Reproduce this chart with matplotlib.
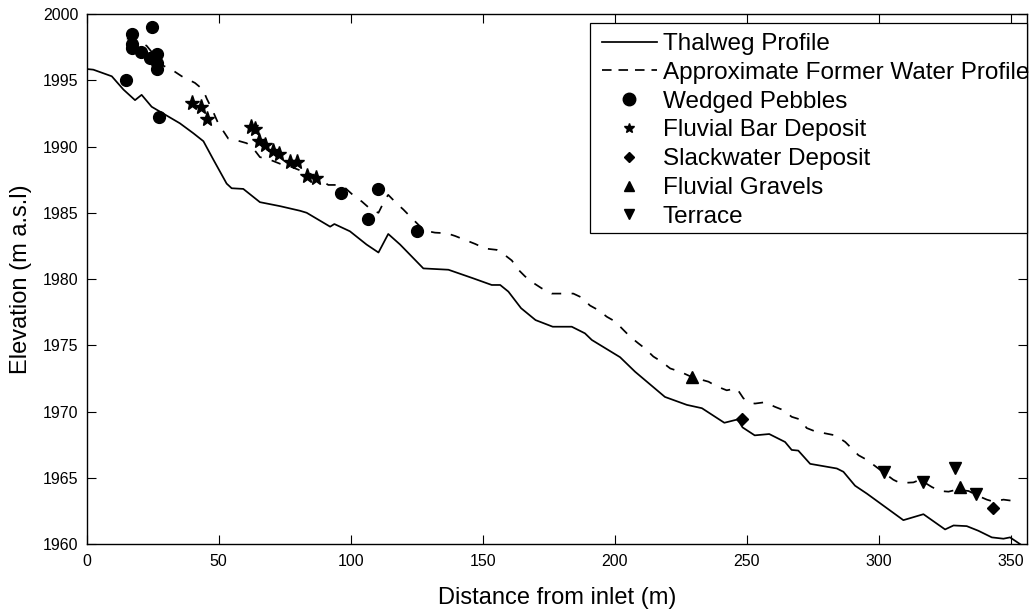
import numpy as np
import matplotlib
matplotlib.use('Agg')
import matplotlib.pyplot as plt
from matplotlib.lines import Line2D
from matplotlib.patches import Rectangle

plt.rcParams['font.family'] = ['Liberation Sans', 'DejaVu Sans']

# thalweg profile (distance m, elevation m a.s.l)
thal_x = [0, 2.5, 9.5, 13.9, 18.3, 20.8, 24.6, 35.3, 40.4, 44.2, 48, 53, 54.9, 59.3,
          65.6, 73.2, 80.8, 83.3, 92.2, 93.8, 99.7, 106, 110.5, 114.2, 118.7, 127.5,
          137, 146.4, 153.4, 156.6, 159.7, 164.5, 170, 176.5, 183.7, 188.7, 191.3,
          202, 207.7, 219, 227.3, 233, 241.5, 246.5, 248.4, 253, 258.5, 264.5, 267,
          269.5, 274, 284.1, 286.6, 291, 295.5, 309.3, 316.9, 325.1, 328.3, 333.3,
          337.7, 342.8, 347.2, 349.7, 354.2]
thal_y = [1995.85, 1995.8, 1995.3, 1994.3, 1993.5, 1993.9, 1993.0, 1991.75, 1991.0,
          1990.4, 1989.0, 1987.2, 1986.85, 1986.8, 1985.8, 1985.5, 1985.15, 1985.0,
          1983.95, 1984.15, 1983.6, 1982.6, 1982.0, 1983.4, 1982.6, 1980.8, 1980.7,
          1980.05, 1979.55, 1979.55, 1979.05, 1977.8, 1976.9, 1976.4, 1976.4, 1975.9,
          1975.4, 1974.1, 1973.0, 1971.1, 1970.5, 1970.25, 1969.15, 1969.4, 1968.8,
          1968.2, 1968.3, 1967.7, 1967.1, 1967.05, 1966.05, 1965.7, 1965.45, 1964.4,
          1963.8, 1961.8, 1962.25, 1961.1, 1961.4, 1961.35, 1961.0, 1960.5, 1960.4,
          1960.5, 1959.9]

# approximate former water profile
water_x = [15.2, 16.4, 20.2, 22.7, 26, 29, 32.2, 36, 41, 44, 45.5, 47.5, 49.8, 53.6,
           56.2, 60.6, 63.1, 65.6, 69.4, 73.2, 77, 80.8, 84.6, 88.4, 91.5, 94.7, 97.2,
           101.6, 104.2, 107.9, 110.5, 113, 114.2, 117.4, 119.9, 123.1, 125.6, 128.1,
           131.9, 136.4, 139.5, 143.3, 147.1, 150.9, 155.3, 158.4, 161, 163.5, 166,
           169.2, 172.3, 176.1, 179.3, 184.3, 187.5, 190.6, 193.8, 197, 200.1, 203.3,
           205.8, 208.9, 211.5, 214.6, 217.8, 221, 224.8, 229.2, 235.5, 238.6, 242.4,
           246.2, 248.7, 251.3, 253.1, 256.9, 260.7, 263.9, 267, 270.2, 272.7, 275.9,
           279.7, 283.5, 287.3, 289.8, 292.3, 295.5, 301.8, 305.5, 308.1, 313.1, 315.6,
           320.1, 323.2, 326.4, 329.5, 334, 338, 340.9, 343.4, 347.2, 351]
water_y = [1998.15, 1998.1, 1997.9, 1997.6, 1996.8, 1996.1, 1995.8, 1995.3, 1994.8,
           1994.3, 1993.6, 1992.8, 1991.75, 1990.6, 1990.5, 1990.25, 1989.85, 1989.2,
           1989.0, 1988.7, 1988.5, 1988.2, 1987.95, 1987.5, 1987.1, 1987.1, 1987.0,
           1986.2, 1985.85, 1985.2, 1985.0, 1986.0, 1986.35, 1985.7, 1985.25, 1984.6,
           1984.1, 1983.65, 1983.5, 1983.45, 1983.25, 1982.95, 1982.65, 1982.3, 1982.2,
           1981.8, 1981.4, 1980.7, 1980.2, 1979.7, 1979.3, 1978.9, 1978.9, 1978.9,
           1978.6, 1978.0, 1977.65, 1977.15, 1976.8, 1976.15, 1975.65, 1975.15,
           1974.75, 1974.15, 1973.75, 1973.25, 1973.0, 1972.6, 1972.25, 1971.9, 1971.6,
           1971.75, 1971.0, 1970.65, 1970.6, 1970.7, 1970.35, 1970.1, 1969.6, 1969.4,
           1968.75, 1968.5, 1968.35, 1968.2, 1967.7, 1967.2, 1966.7, 1966.35, 1965.4,
           1964.85, 1964.6, 1964.65, 1964.85, 1964.3, 1964.0, 1963.95, 1964.1, 1964.0,
           1963.6, 1963.35, 1963.2, 1963.35, 1963.25]

# field evidence
pebbles_x = [14.8, 17.0, 17.0, 17.0, 20.6, 24.0, 24.6, 26.5, 26.5, 26.5, 27.4, 96.2,
             106.4, 110.5, 125.2]
pebbles_y = [1995.0, 1998.5, 1997.7, 1997.4, 1997.15, 1996.65, 1999.0, 1997.0, 1996.3,
             1995.85, 1992.25, 1986.5, 1984.5, 1986.8, 1983.65]
bar_x = [40.0, 43.3, 45.5, 62.1, 63.8, 65.3, 67.5, 70.4, 73.0, 77.0, 79.8, 83.6, 86.9]
bar_y = [1993.25, 1993.0, 1992.05, 1991.5, 1991.3, 1990.4, 1990.1, 1989.65, 1989.45,
         1988.85, 1988.85, 1987.8, 1987.6]
slack_x = [248.1, 343.4]
slack_y = [1969.45, 1962.75]
gravel_x = [229.2, 330.8]
gravel_y = [1972.6, 1964.3]
terrace_x = [301.8, 316.7, 328.9, 336.9]
terrace_y = [1965.4, 1964.7, 1965.7, 1963.8]

labels = ['Thalweg Profile', 'Approximate Former Water Profile', 'Wedged Pebbles',
          'Fluvial Bar Deposit', 'Slackwater Deposit', 'Fluvial Gravels', 'Terrace']

dash = (0, (5.5, 6))

fig = plt.figure(figsize=(10.31, 6.12), dpi=100)
ax = fig.add_axes([0.0841, 0.1111, 0.9117, 0.866])

ax.plot(thal_x, thal_y, color='k', lw=1.25)
ax.plot(water_x, water_y, color='k', lw=1.25, linestyle=dash)
ax.plot(pebbles_x, pebbles_y, 'o', color='k', ms=8.5)
ax.plot(bar_x, bar_y, '*', color='k', ms=11)
ax.plot(slack_x, slack_y, 'D', color='k', ms=6.3)
ax.plot(gravel_x, gravel_y, '^', color='k', ms=9)
ax.plot(terrace_x, terrace_y, 'v', color='k', ms=9)

ax.set_xlim(0, 356)
ax.set_ylim(1960, 2000)
ax.set_xticks(np.arange(0, 351, 50))
ax.set_yticks(np.arange(1960, 2001, 5))
ax.tick_params(direction='in', top=True, right=True, length=6.5, width=0.8,
               labelsize=11.5, pad=6)
ax.tick_params(axis='x', pad=7.5)
for s in ax.spines.values():
    s.set_linewidth(1.0)

ax.set_xlabel('Distance from inlet (m)', fontsize=17, labelpad=13)
ax.set_ylabel('Elevation (m a.s.l)', fontsize=17, labelpad=8)

# legend (handles sized like the original key)
handles = [Line2D([], [], color='k', lw=1.25),
           Line2D([], [], color='k', lw=1.25, linestyle=(0, (5.5, 4))),
           Line2D([], [], ls='none', marker='o', color='k', ms=9),
           Line2D([], [], ls='none', marker='*', color='k', ms=7.5),
           Line2D([], [], ls='none', marker='D', color='k', ms=5.3),
           Line2D([], [], ls='none', marker='^', color='k', ms=7.5),
           Line2D([], [], ls='none', marker='v', color='k', ms=7.5)]
leg = ax.legend(handles, labels, loc='upper left', bbox_to_anchor=(602 / 1031, 1 - 33 / 612),
                bbox_transform=fig.transFigure, frameon=False, fontsize=17.5,
                borderpad=0, borderaxespad=0, handlelength=2.25, handletextpad=0.25,
                labelspacing=0.28)
box = Rectangle((590 / 1031, 1 - 232.7 / 612), (1026.7 - 590) / 1031, 210 / 612,
                transform=fig.transFigure, fill=True, facecolor='white',
                edgecolor='k', lw=0.9, zorder=4)
ax.add_artist(box)
box.set_clip_on(False)
leg.set_zorder(5)

fig.savefig('out.png', dpi=100)
